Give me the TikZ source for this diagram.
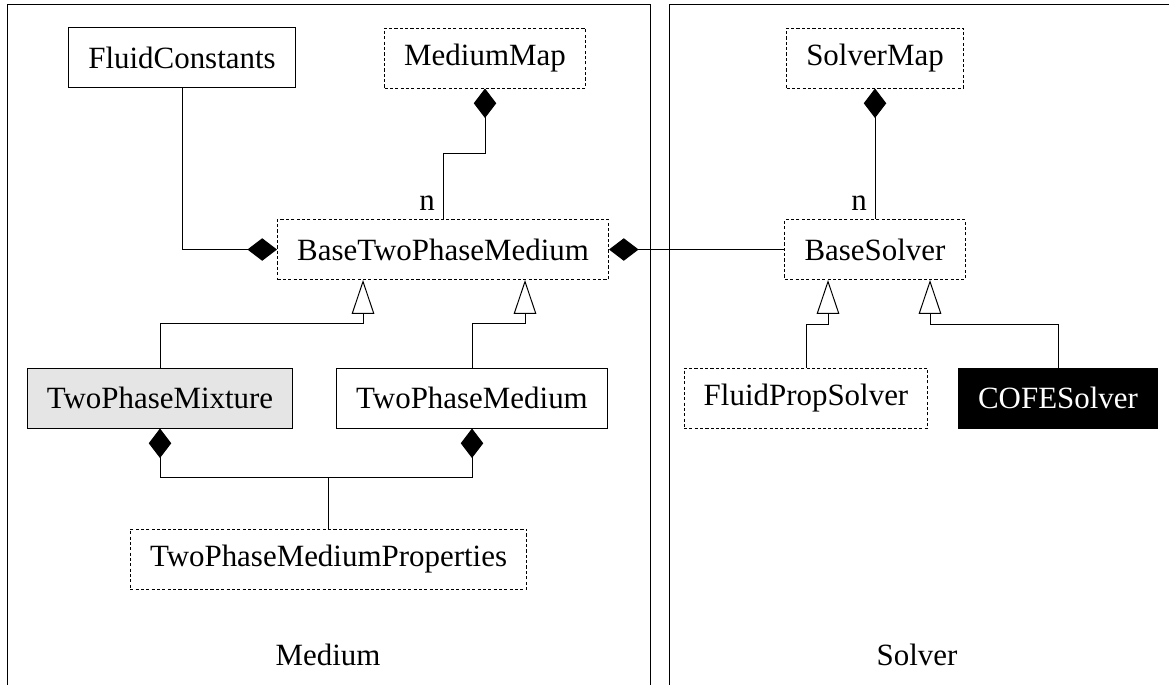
\documentclass[tikz,border=0pt]{standalone}
\usepackage{fontspec}
\setmainfont{Liberation Serif}
\usetikzlibrary{arrows.meta,
		calc}

\tikzset{
	klass/.style = {draw, rectangle, minimum height = 1.5cm, inner xsep = 14pt},
	abstractklass/.style = {klass, dash pattern = on 2.2pt off 1.6pt},
	owns/.style = {{Diamond[length = 21pt, width = 16pt]}-},
	inherit/.style = {-{Triangle[open, length = 24pt, width = 16pt]}},
	nlabel/.style = {anchor = south east, inner xsep = 5.5pt, inner ysep = 6pt}
}

\begin{document}
\begin{tikzpicture}[x = 0.025cm, y = -0.025cm, line width = 0.7pt, font = \fontsize{22}{26}\selectfont]

\useasboundingbox (0,0) rectangle (1169,684);

% package frames
\draw (7,690) -- (7,4) -- (650,4) -- (650,690);
\draw (669,690) -- (669,4) -- (1175,4);
\node (medium) at (328,655) {Medium};
\node (solver) at (917,655) {Solver};

% medium classes
\node [klass] (fluidconst) at (182,57.5) {FluidConstants};
\node [abstractklass] (mediummap) at (485,58) {MediumMap};
\node [abstractklass] (basemedium) at (443,249.5) {BaseTwoPhaseMedium};
\node [klass, fill = black!10] (mixture) at (160,398) {TwoPhaseMixture};
\node [klass] (twophase) at (472,398) {TwoPhaseMedium};
\node [abstractklass] (properties) at (328.5,559) {TwoPhaseMediumProperties};

% solver classes
\node [abstractklass] (solvermap) at (875,58) {SolverMap};
\node [abstractklass] (basesolver) at (875,249.5) {BaseSolver};
\node [abstractklass] (fluidprop) at (806,398) {FluidPropSolver};
\node [klass, fill = black, text = white] (cofe) at (1058,398) {COFESolver};

% compositions
\draw [owns] (basemedium.west) -| (fluidconst.south);
\draw [owns] (mediummap.south) -- ++(0,65) -| (basemedium.north) node [nlabel] {n};
\draw [owns] (basemedium.east) -- (basesolver.west);
\draw [owns] (solvermap.south) -- (basesolver.north) node [nlabel] {n};
\draw [owns] (mixture.south) -- ++(0,49) -| (properties.north);
\draw [owns] (twophase.south) -- ++(0,49) -| (properties.north);

% inheritance
\draw [inherit] (mixture.north) -- ++(0,-44) -| ($(basemedium.south)+(-80,0)$);
\draw [inherit] (twophase.north) -- ++(0,-44) -| ($(basemedium.south)+(82,0)$);
\draw [inherit] (fluidprop.north) -- ++(0,-43) -| ($(basesolver.south)+(-47,0)$);
\draw [inherit] (cofe.north) -- ++(0,-43) -| ($(basesolver.south)+(55,0)$);

\end{tikzpicture}
\end{document}
